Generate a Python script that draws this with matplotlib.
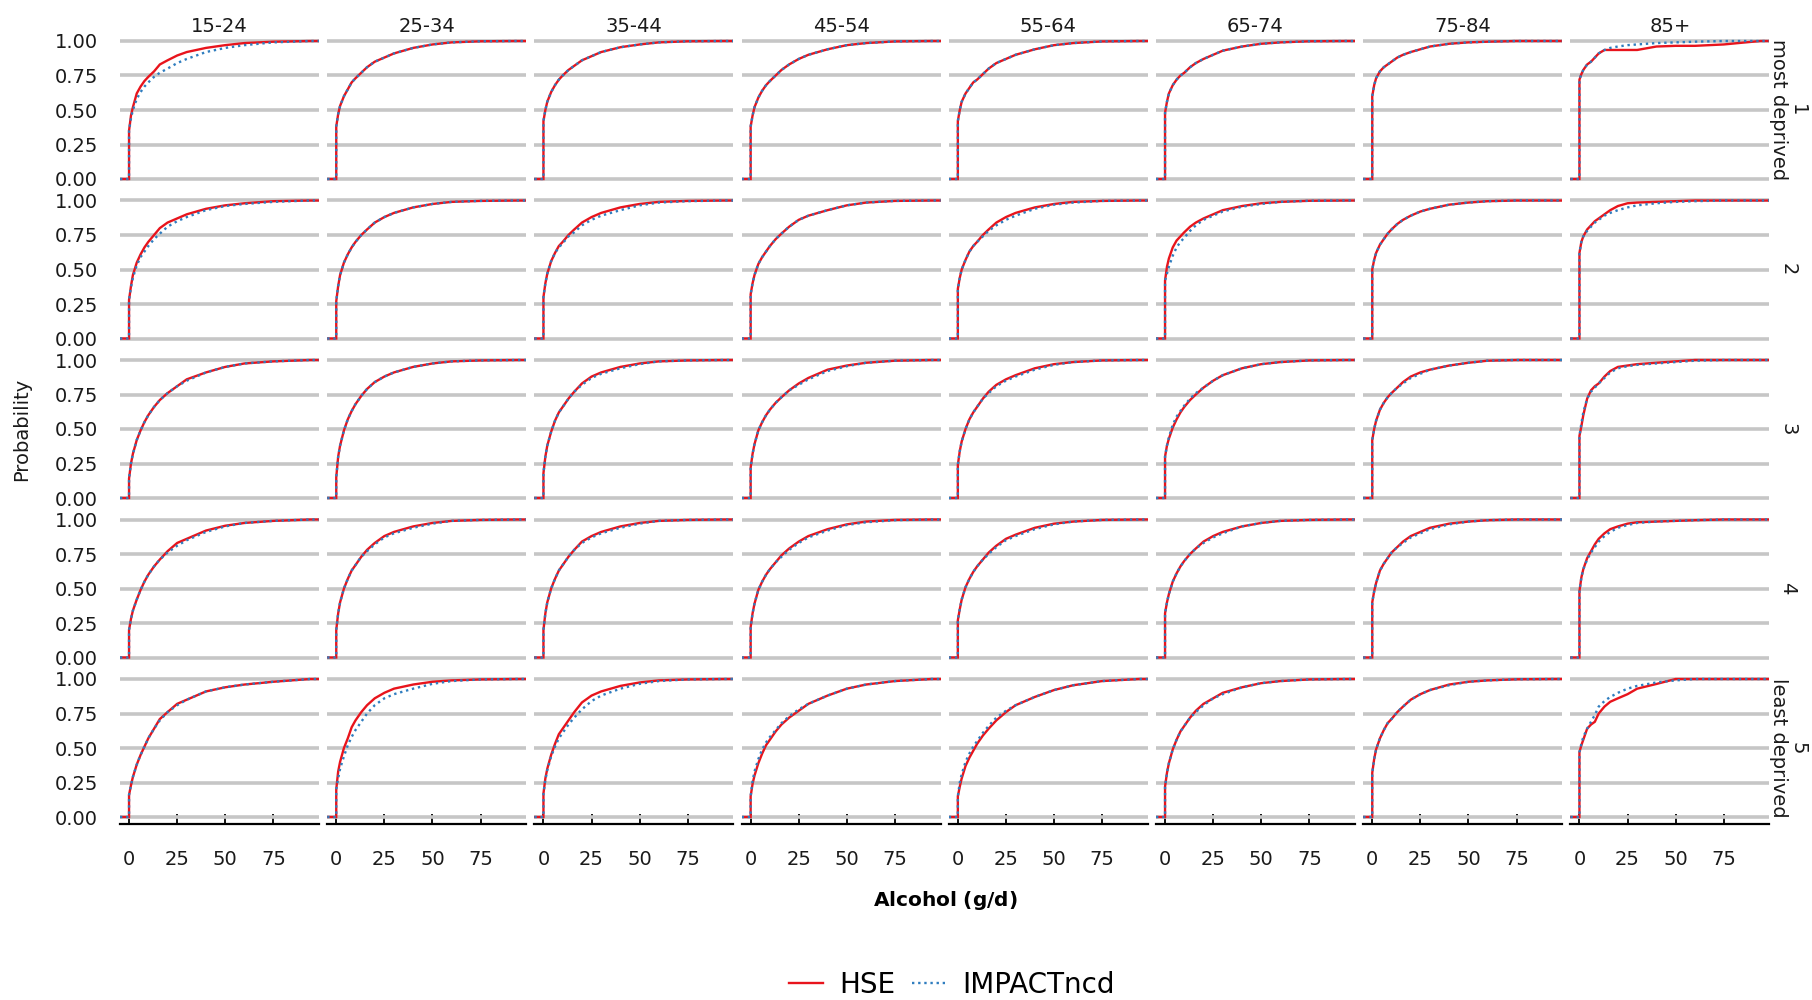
import matplotlib
matplotlib.use("Agg")
import matplotlib.pyplot as plt
from matplotlib.lines import Line2D

plt.rcParams["font.family"] = ["DejaVu Sans"]

# Facet labels
AGE_GROUPS = ["15-24", "25-34", "35-44", "45-54", "55-64", "65-74", "75-84", "85+"]
QUINTILES = ["1\nmost deprived", "2", "3", "4", "5\nleast deprived"]

# Alcohol intake (g/d) at which the cumulative probabilities are given
ALCOHOL_GRID = [0, 1, 2, 4, 6, 8, 10, 13, 16, 20, 25, 30, 40, 50, 60, 75, 94]

# Cumulative probability by quintile (rows) and age group (columns)
HSE_Q1 = [
    [0.35, 0.46, 0.52, 0.62, 0.67, 0.71, 0.74, 0.78, 0.83, 0.86, 0.895, 0.92, 0.95, 0.97, 0.985, 0.995, 1],
    [0.38, 0.47, 0.53, 0.60, 0.65, 0.70, 0.73, 0.77, 0.81, 0.85, 0.88, 0.91, 0.95, 0.975, 0.99, 0.998, 1],
    [0.42, 0.50, 0.56, 0.63, 0.68, 0.72, 0.75, 0.79, 0.82, 0.86, 0.89, 0.92, 0.955, 0.975, 0.99, 0.998, 1],
    [0.38, 0.46, 0.52, 0.59, 0.64, 0.68, 0.71, 0.75, 0.79, 0.83, 0.87, 0.90, 0.94, 0.97, 0.985, 0.997, 1],
    [0.42, 0.50, 0.56, 0.62, 0.66, 0.70, 0.72, 0.76, 0.80, 0.84, 0.87, 0.90, 0.94, 0.97, 0.985, 0.997, 1],
    [0.48, 0.56, 0.62, 0.68, 0.72, 0.75, 0.77, 0.81, 0.84, 0.87, 0.90, 0.93, 0.96, 0.98, 0.99, 0.998, 1],
    [0.60, 0.68, 0.73, 0.78, 0.81, 0.83, 0.85, 0.88, 0.90, 0.92, 0.94, 0.96, 0.98, 0.99, 0.995, 1, 1],
    [0.72, 0.76, 0.79, 0.83, 0.85, 0.88, 0.91, 0.935, 0.935, 0.935, 0.935, 0.935, 0.96, 0.965, 0.965, 0.975, 1],
]
IMP_Q1 = [
    [0.35, 0.44, 0.50, 0.58, 0.63, 0.67, 0.70, 0.74, 0.77, 0.80, 0.84, 0.87, 0.92, 0.95, 0.97, 0.99, 1],
    [0.38, 0.47, 0.53, 0.60, 0.65, 0.70, 0.73, 0.77, 0.81, 0.85, 0.88, 0.91, 0.95, 0.975, 0.99, 0.998, 1],
    [0.42, 0.50, 0.56, 0.63, 0.68, 0.72, 0.75, 0.79, 0.82, 0.86, 0.89, 0.92, 0.955, 0.975, 0.99, 0.998, 1],
    [0.38, 0.46, 0.52, 0.59, 0.64, 0.68, 0.71, 0.75, 0.79, 0.83, 0.87, 0.90, 0.94, 0.97, 0.985, 0.997, 1],
    [0.42, 0.50, 0.56, 0.62, 0.66, 0.70, 0.72, 0.76, 0.80, 0.84, 0.87, 0.90, 0.94, 0.97, 0.985, 0.997, 1],
    [0.48, 0.56, 0.62, 0.68, 0.72, 0.75, 0.77, 0.81, 0.84, 0.87, 0.90, 0.93, 0.96, 0.98, 0.99, 0.998, 1],
    [0.60, 0.68, 0.73, 0.78, 0.81, 0.83, 0.85, 0.88, 0.90, 0.92, 0.94, 0.96, 0.98, 0.99, 0.995, 1, 1],
    [0.72, 0.76, 0.79, 0.83, 0.85, 0.88, 0.91, 0.935, 0.95, 0.96, 0.97, 0.975, 0.985, 0.99, 0.995, 1, 1],
]

HSE_Q2 = [
    [0.28, 0.38, 0.46, 0.55, 0.61, 0.66, 0.70, 0.75, 0.80, 0.84, 0.87, 0.90, 0.94, 0.965, 0.98, 0.995, 1],
    [0.27, 0.38, 0.46, 0.55, 0.61, 0.66, 0.70, 0.75, 0.79, 0.84, 0.88, 0.91, 0.95, 0.975, 0.99, 0.997, 1],
    [0.30, 0.40, 0.47, 0.56, 0.62, 0.67, 0.70, 0.75, 0.79, 0.84, 0.88, 0.91, 0.95, 0.975, 0.99, 0.997, 1],
    [0.32, 0.40, 0.46, 0.54, 0.59, 0.63, 0.67, 0.72, 0.76, 0.81, 0.86, 0.89, 0.93, 0.965, 0.985, 0.997, 1],
    [0.36, 0.44, 0.50, 0.57, 0.63, 0.67, 0.70, 0.75, 0.79, 0.84, 0.88, 0.91, 0.95, 0.975, 0.99, 0.997, 1],
    [0.42, 0.52, 0.58, 0.66, 0.71, 0.74, 0.77, 0.81, 0.84, 0.87, 0.90, 0.93, 0.96, 0.98, 0.99, 0.998, 1],
    [0.50, 0.57, 0.62, 0.68, 0.72, 0.76, 0.79, 0.83, 0.86, 0.89, 0.92, 0.94, 0.97, 0.985, 0.995, 1, 1],
    [0.62, 0.70, 0.74, 0.79, 0.82, 0.85, 0.87, 0.90, 0.93, 0.96, 0.98, 0.985, 0.99, 0.995, 1, 1, 1],
]
IMP_Q2 = [
    [0.28, 0.37, 0.44, 0.53, 0.59, 0.63, 0.67, 0.72, 0.76, 0.81, 0.85, 0.88, 0.93, 0.96, 0.975, 0.99, 1],
    [0.27, 0.38, 0.46, 0.55, 0.61, 0.66, 0.70, 0.75, 0.79, 0.84, 0.88, 0.91, 0.95, 0.975, 0.99, 0.997, 1],
    [0.30, 0.40, 0.47, 0.56, 0.62, 0.66, 0.69, 0.74, 0.77, 0.82, 0.86, 0.89, 0.93, 0.965, 0.985, 0.995, 1],
    [0.32, 0.40, 0.46, 0.54, 0.59, 0.63, 0.67, 0.72, 0.76, 0.81, 0.86, 0.89, 0.93, 0.965, 0.985, 0.997, 1],
    [0.36, 0.44, 0.50, 0.57, 0.63, 0.67, 0.70, 0.74, 0.78, 0.82, 0.86, 0.89, 0.94, 0.97, 0.985, 0.997, 1],
    [0.42, 0.47, 0.52, 0.60, 0.66, 0.70, 0.73, 0.78, 0.82, 0.86, 0.89, 0.92, 0.955, 0.975, 0.99, 0.998, 1],
    [0.50, 0.57, 0.62, 0.68, 0.72, 0.76, 0.79, 0.83, 0.86, 0.89, 0.92, 0.94, 0.97, 0.985, 0.995, 1, 1],
    [0.62, 0.70, 0.74, 0.78, 0.81, 0.84, 0.86, 0.89, 0.91, 0.93, 0.95, 0.965, 0.98, 0.99, 0.995, 1, 1],
]

HSE_Q3 = [
    [0.14, 0.25, 0.32, 0.42, 0.49, 0.55, 0.60, 0.66, 0.71, 0.76, 0.81, 0.86, 0.91, 0.95, 0.975, 0.99, 1],
    [0.15, 0.30, 0.38, 0.49, 0.57, 0.63, 0.68, 0.74, 0.79, 0.84, 0.88, 0.91, 0.95, 0.975, 0.99, 0.997, 1],
    [0.18, 0.30, 0.38, 0.48, 0.56, 0.62, 0.66, 0.72, 0.77, 0.83, 0.88, 0.91, 0.95, 0.975, 0.99, 0.997, 1],
    [0.22, 0.32, 0.39, 0.49, 0.55, 0.60, 0.64, 0.69, 0.73, 0.78, 0.83, 0.87, 0.93, 0.96, 0.98, 0.995, 1],
    [0.24, 0.34, 0.41, 0.50, 0.57, 0.62, 0.66, 0.72, 0.77, 0.82, 0.86, 0.89, 0.94, 0.97, 0.985, 0.997, 1],
    [0.30, 0.38, 0.43, 0.51, 0.57, 0.62, 0.66, 0.71, 0.75, 0.80, 0.85, 0.89, 0.94, 0.97, 0.985, 0.997, 1],
    [0.42, 0.50, 0.56, 0.64, 0.69, 0.73, 0.76, 0.80, 0.84, 0.88, 0.91, 0.93, 0.96, 0.98, 0.995, 1, 1],
    [0.45, 0.52, 0.60, 0.72, 0.78, 0.81, 0.83, 0.88, 0.92, 0.95, 0.96, 0.97, 0.98, 0.99, 1, 1, 1],
]
IMP_Q3 = [
    [0.14, 0.25, 0.32, 0.42, 0.49, 0.55, 0.60, 0.66, 0.71, 0.76, 0.81, 0.85, 0.91, 0.95, 0.975, 0.99, 1],
    [0.15, 0.30, 0.38, 0.49, 0.57, 0.63, 0.68, 0.74, 0.79, 0.84, 0.88, 0.91, 0.95, 0.975, 0.99, 0.997, 1],
    [0.18, 0.30, 0.38, 0.48, 0.56, 0.62, 0.66, 0.72, 0.77, 0.82, 0.87, 0.90, 0.94, 0.97, 0.99, 0.997, 1],
    [0.22, 0.32, 0.39, 0.49, 0.55, 0.60, 0.64, 0.69, 0.73, 0.78, 0.82, 0.86, 0.92, 0.955, 0.98, 0.995, 1],
    [0.24, 0.34, 0.41, 0.50, 0.57, 0.62, 0.66, 0.72, 0.76, 0.81, 0.85, 0.88, 0.93, 0.965, 0.985, 0.997, 1],
    [0.30, 0.38, 0.44, 0.53, 0.59, 0.63, 0.67, 0.72, 0.76, 0.80, 0.85, 0.89, 0.94, 0.97, 0.985, 0.997, 1],
    [0.42, 0.50, 0.56, 0.64, 0.69, 0.73, 0.76, 0.80, 0.83, 0.87, 0.90, 0.93, 0.96, 0.98, 0.995, 1, 1],
    [0.45, 0.54, 0.62, 0.72, 0.77, 0.80, 0.83, 0.87, 0.91, 0.94, 0.955, 0.965, 0.975, 0.985, 0.995, 1, 1],
]

HSE_Q4 = [
    [0.20, 0.28, 0.34, 0.42, 0.49, 0.55, 0.60, 0.66, 0.71, 0.77, 0.83, 0.86, 0.92, 0.955, 0.975, 0.99, 1],
    [0.20, 0.32, 0.40, 0.50, 0.57, 0.63, 0.67, 0.73, 0.78, 0.83, 0.88, 0.91, 0.95, 0.975, 0.99, 0.997, 1],
    [0.20, 0.32, 0.40, 0.50, 0.57, 0.63, 0.67, 0.73, 0.78, 0.84, 0.88, 0.91, 0.95, 0.975, 0.99, 0.997, 1],
    [0.22, 0.32, 0.39, 0.49, 0.55, 0.60, 0.64, 0.69, 0.74, 0.79, 0.84, 0.88, 0.93, 0.965, 0.985, 0.997, 1],
    [0.27, 0.35, 0.42, 0.51, 0.57, 0.62, 0.66, 0.71, 0.76, 0.81, 0.86, 0.89, 0.94, 0.97, 0.985, 0.997, 1],
    [0.32, 0.40, 0.46, 0.55, 0.61, 0.66, 0.70, 0.75, 0.79, 0.84, 0.88, 0.91, 0.95, 0.975, 0.99, 0.997, 1],
    [0.40, 0.48, 0.54, 0.63, 0.68, 0.72, 0.76, 0.80, 0.84, 0.88, 0.91, 0.94, 0.97, 0.985, 0.995, 1, 1],
    [0.48, 0.58, 0.64, 0.72, 0.77, 0.82, 0.86, 0.90, 0.93, 0.95, 0.97, 0.98, 0.985, 0.99, 0.995, 1, 1],
]
IMP_Q4 = [
    [0.20, 0.28, 0.34, 0.42, 0.49, 0.55, 0.60, 0.66, 0.71, 0.76, 0.81, 0.85, 0.91, 0.95, 0.975, 0.99, 1],
    [0.20, 0.32, 0.40, 0.50, 0.57, 0.63, 0.67, 0.73, 0.77, 0.82, 0.87, 0.90, 0.94, 0.97, 0.99, 0.997, 1],
    [0.20, 0.32, 0.40, 0.50, 0.57, 0.63, 0.67, 0.73, 0.78, 0.83, 0.87, 0.90, 0.94, 0.97, 0.99, 0.997, 1],
    [0.22, 0.32, 0.39, 0.49, 0.55, 0.60, 0.64, 0.69, 0.73, 0.78, 0.83, 0.87, 0.92, 0.96, 0.98, 0.995, 1],
    [0.27, 0.35, 0.42, 0.51, 0.57, 0.62, 0.66, 0.71, 0.75, 0.80, 0.85, 0.88, 0.93, 0.965, 0.985, 0.997, 1],
    [0.32, 0.40, 0.46, 0.55, 0.61, 0.66, 0.70, 0.75, 0.79, 0.83, 0.87, 0.90, 0.95, 0.975, 0.99, 0.997, 1],
    [0.40, 0.48, 0.54, 0.63, 0.68, 0.72, 0.76, 0.80, 0.83, 0.87, 0.90, 0.93, 0.965, 0.985, 0.995, 1, 1],
    [0.48, 0.58, 0.64, 0.71, 0.76, 0.80, 0.84, 0.88, 0.91, 0.94, 0.96, 0.975, 0.985, 0.99, 0.995, 1, 1],
]

HSE_Q5 = [
    [0.16, 0.23, 0.29, 0.38, 0.45, 0.51, 0.57, 0.64, 0.71, 0.76, 0.82, 0.85, 0.91, 0.94, 0.96, 0.98, 1],
    [0.20, 0.33, 0.40, 0.50, 0.57, 0.65, 0.70, 0.76, 0.81, 0.86, 0.90, 0.93, 0.96, 0.98, 0.99, 0.997, 1],
    [0.17, 0.28, 0.35, 0.45, 0.53, 0.60, 0.64, 0.70, 0.76, 0.83, 0.88, 0.91, 0.95, 0.975, 0.99, 0.997, 1],
    [0.15, 0.24, 0.30, 0.39, 0.46, 0.52, 0.56, 0.62, 0.67, 0.72, 0.77, 0.82, 0.88, 0.93, 0.96, 0.985, 1],
    [0.15, 0.22, 0.28, 0.37, 0.43, 0.48, 0.53, 0.59, 0.64, 0.70, 0.76, 0.81, 0.87, 0.92, 0.955, 0.985, 1],
    [0.22, 0.32, 0.39, 0.49, 0.56, 0.62, 0.66, 0.72, 0.77, 0.82, 0.86, 0.90, 0.94, 0.97, 0.985, 0.997, 1],
    [0.32, 0.42, 0.49, 0.57, 0.63, 0.68, 0.71, 0.76, 0.80, 0.85, 0.89, 0.92, 0.96, 0.98, 0.99, 0.998, 1],
    [0.47, 0.52, 0.56, 0.64, 0.67, 0.69, 0.75, 0.80, 0.835, 0.86, 0.89, 0.93, 0.964, 1, 1, 1, 1],
]
IMP_Q5 = [
    [0.16, 0.23, 0.29, 0.38, 0.45, 0.51, 0.57, 0.64, 0.70, 0.76, 0.81, 0.85, 0.91, 0.94, 0.96, 0.98, 1],
    [0.20, 0.28, 0.35, 0.44, 0.52, 0.58, 0.63, 0.69, 0.75, 0.81, 0.86, 0.89, 0.93, 0.965, 0.985, 0.997, 1],
    [0.17, 0.27, 0.34, 0.44, 0.51, 0.57, 0.61, 0.67, 0.72, 0.78, 0.84, 0.88, 0.93, 0.965, 0.985, 0.997, 1],
    [0.15, 0.26, 0.33, 0.42, 0.49, 0.54, 0.58, 0.63, 0.68, 0.73, 0.78, 0.82, 0.88, 0.93, 0.96, 0.985, 1],
    [0.15, 0.25, 0.31, 0.40, 0.46, 0.51, 0.55, 0.61, 0.66, 0.72, 0.77, 0.81, 0.87, 0.92, 0.955, 0.985, 1],
    [0.22, 0.32, 0.39, 0.49, 0.56, 0.62, 0.66, 0.72, 0.76, 0.81, 0.86, 0.89, 0.94, 0.97, 0.985, 0.997, 1],
    [0.32, 0.42, 0.49, 0.57, 0.63, 0.68, 0.71, 0.76, 0.80, 0.85, 0.89, 0.92, 0.955, 0.98, 0.99, 0.998, 1],
    [0.47, 0.53, 0.58, 0.64, 0.69, 0.74, 0.80, 0.84, 0.87, 0.90, 0.93, 0.95, 0.975, 0.99, 1, 1, 1],
]

HSE = [HSE_Q1, HSE_Q2, HSE_Q3, HSE_Q4, HSE_Q5]
IMPACT = [IMP_Q1, IMP_Q2, IMP_Q3, IMP_Q4, IMP_Q5]

Y_TICKS = [0.0, 0.25, 0.5, 0.75, 1.0]
Y_TICK_LABELS = ["0.00", "0.25", "0.50", "0.75", "1.00"]
X_TICKS = [0, 25, 50, 75]
X_LIM = (-4.7, 98.7)
Y_LIM = (-0.05, 1.05)

RED = "#e8141c"
BLUE = "#2f7dbf"
GRID = "#c6c6c6"

W, H = 1812, 1000
fig = plt.figure(figsize=(W / 100, H / 100), dpi=100)

# panel geometry in pixels
left0, pw, xpitch = 120, 199, 207.2
top0, ph, ypitch = 34.1, 151.8, 159.5


def ecdf_path(probs):
    # pad the curve at both ends like an empirical CDF running to +/- infinity
    xs = [X_LIM[0], 0] + ALCOHOL_GRID + [X_LIM[1]]
    ys = [0, 0] + list(probs) + [1]
    return xs, ys


for r in range(len(QUINTILES)):
    for c in range(len(AGE_GROUPS)):
        x0 = left0 + c * xpitch
        y0 = top0 + r * ypitch
        ax = fig.add_axes([x0 / W, 1 - (y0 + ph) / H, pw / W, ph / H])
        ax.set_xlim(*X_LIM)
        ax.set_ylim(*Y_LIM)
        ax.set_yticks(Y_TICKS)
        ax.set_xticks(X_TICKS)
        ax.grid(axis="y", color=GRID, lw=2.6)
        ax.grid(axis="x", visible=False)
        ax.set_axisbelow(True)
        for s in ax.spines.values():
            s.set_visible(False)

        hx, hy = ecdf_path(HSE[r][c])
        ix, iy = ecdf_path(IMPACT[r][c])
        ax.plot(hx, hy, color=RED, lw=1.7, solid_joinstyle="miter")
        ax.plot(ix, iy, color=BLUE, lw=1.7, linestyle=(0, (1.0, 1.6)))

        if c == 0:
            ax.set_yticklabels(Y_TICK_LABELS, fontsize=14, color="#1a1a1a")
            ax.tick_params(axis="y", length=0, pad=16)
        else:
            ax.tick_params(axis="y", length=0, labelleft=False)

        if r == len(QUINTILES) - 1:
            ax.spines["bottom"].set_visible(True)
            ax.spines["bottom"].set_color("black")
            ax.spines["bottom"].set_linewidth(1.6)
            ax.tick_params(axis="x", direction="in", length=7, width=1.3,
                           color="black", labelsize=14, pad=19,
                           labelcolor="#1a1a1a")
        else:
            ax.tick_params(axis="x", length=0, labelbottom=False)

        if r == 0:
            fig.text((x0 + pw / 2) / W, 1 - 32 / H, AGE_GROUPS[c],
                     ha="center", va="baseline", fontsize=14, color="#1a1a1a")
        if c == len(AGE_GROUPS) - 1:
            fig.text(1788 / W, 1 - (y0 + ph / 2) / H, QUINTILES[r],
                     ha="center", va="center", rotation=270, fontsize=14,
                     linespacing=1.05, color="#1a1a1a")

fig.text(22 / W, 1 - 429 / H, "Probability", rotation=90,
         ha="center", va="center", fontsize=14, color="#1a1a1a")
fig.text(945 / W, 1 - 900 / H, r"$\bf{Alcohol}\ (\bf{g/d})$",
         ha="center", va="center", fontsize=14.5, color="black")

handles = [
    Line2D([], [], color=RED, lw=1.7),
    Line2D([], [], color=BLUE, lw=1.7, linestyle=(0, (1.0, 1.6))),
]
fig.legend(handles, ["HSE", "IMPACTncd"], loc="center",
           bbox_to_anchor=(952 / W, 1 - 985 / H), ncol=2, frameon=False,
           fontsize=20, handlelength=1.2, handletextpad=0.6,
           columnspacing=0.6, borderpad=0.0)

fig.savefig("out.png", dpi=100)
